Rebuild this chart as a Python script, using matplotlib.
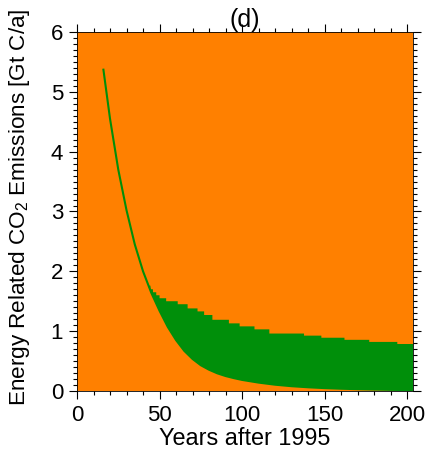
import numpy as np
import matplotlib
matplotlib.use("Agg")
import matplotlib.pyplot as plt
from matplotlib.ticker import MultipleLocator

plt.rcParams['font.family'] = ['Liberation Sans', 'DejaVu Sans']
plt.rcParams['mathtext.fontset'] = 'custom'
plt.rcParams['mathtext.rm'] = 'Liberation Sans'

ORANGE = '#FF8000'
GREEN = '#008F0A'

# emission path (lower edge of the green band), years after 1995
curve_years = [16, 20, 25, 30, 35, 40, 45, 50, 55, 60, 65, 70, 75, 80, 85, 90, 95,
               100, 110, 120, 130, 140, 150, 160, 170, 180, 190, 200, 205]
curve_vals = [5.37, 4.55, 3.70, 3.02, 2.45, 2.00, 1.64, 1.34, 1.07, 0.85, 0.67, 0.535,
              0.43, 0.355, 0.295, 0.25, 0.215, 0.185, 0.14, 0.105, 0.08, 0.062, 0.048,
              0.038, 0.03, 0.024, 0.019, 0.015, 0.013]

# stepped upper edge of the green band: start year of each step and its level
step_years = [43, 44.5, 46, 48, 50, 54, 61, 67, 73, 77, 82, 92, 98.5, 107.5,
              116.5, 137.5, 148, 162, 177, 194]
step_vals = [1.76, 1.70, 1.65, 1.60, 1.55, 1.50, 1.45, 1.38, 1.33, 1.27, 1.19,
             1.13, 1.08, 1.03, 0.96, 0.925, 0.89, 0.855, 0.82, 0.785]
end_year = 205

fig = plt.figure(figsize=(4.4, 4.55), dpi=100)
ax = fig.add_axes([0.175, 0.1407, 0.7636, 0.789])
ax.set_facecolor(ORANGE)

# polygon: steps along the top, curve back along the bottom
edges = step_years[1:] + [end_year]
top_x, top_y = [], []
for x0, x1, v in zip(step_years, edges, step_vals):
    top_x += [x0, x1]
    top_y += [v, v]
cy = np.array(curve_years)
cv = np.array(curve_vals)
keep = cy > step_years[0]
poly_x = np.concatenate([top_x, cy[keep][::-1]])
poly_y = np.concatenate([top_y, cv[keep][::-1]])
ax.fill(poly_x, poly_y, color=GREEN, lw=0, zorder=2)
ax.plot(curve_years, curve_vals, color=GREEN, lw=1.5, zorder=3)

ax.set_xlim(0, 203.5)
ax.set_ylim(0, 6)
ax.xaxis.set_major_locator(MultipleLocator(50))
ax.xaxis.set_minor_locator(MultipleLocator(10))
ax.yaxis.set_major_locator(MultipleLocator(1))
ax.yaxis.set_minor_locator(MultipleLocator(0.1))
ax.tick_params(which='both', direction='out', top=True, right=True,
               labelsize=16, width=0.8, color='black')
ax.tick_params(which='major', length=6, pad=4)
ax.tick_params(which='minor', length=3)
for s in ax.spines.values():
    s.set_linewidth(0.6)

ax.set_xlabel('Years after 1995', fontsize=16.8, labelpad=1)
ax.set_ylabel(r'Energy Related CO$_\mathrm{2}$ Emissions [Gt C/a]', fontsize=16.2)
ax.yaxis.set_label_coords(-0.135, 0.512)
ax.set_title('(d)', fontsize=18, pad=0)

fig.savefig('out.png', dpi=100)
